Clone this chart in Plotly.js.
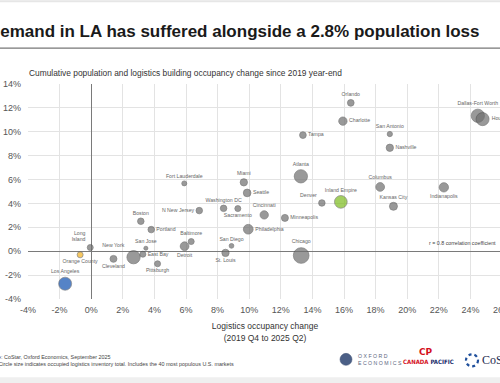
<!DOCTYPE html>
<html><head><meta charset="utf-8">
<script src="https://cdn.plot.ly/plotly-3.0.1.min.js"></script>
<style>
html,body{margin:0;padding:0;width:500px;height:383px;overflow:hidden;background:#fff;position:relative}
#chart{position:absolute;left:-30px;top:0;width:600px;height:383px}
</style>
</head><body><div id="chart"></div>
<script>
// ---- data ----
const cities = ["Los Angeles","Orange County","Long<br>Island","Cleveland","New York","East Bay","San Jose","Boston","Portland","Pittsburgh",
  "Detroit","Baltimore","N New Jersey","Washington DC","Sacramento","St. Louis","San Diego","Philadelphia","Cincinnati","Minneapolis",
  "Chicago","Denver","Seattle","Miami","Fort Lauderdale","Atlanta","Tampa","Inland Empire","Orlando","Charlotte",
  "San Antonio","Nashville","Columbus","Indianapolis","Kansas City","Dallas-Fort Worth","Houston"];
const occupancyChange = [-1.65,-0.70,-0.06,1.41,2.68,3.27,3.46,3.14,3.80,4.20,
  5.91,6.33,6.84,8.38,9.28,8.50,8.88,9.94,10.95,12.26,
  13.29,14.60,9.87,9.66,5.89,13.27,13.40,15.80,16.43,15.93,
  18.90,18.90,18.29,22.32,19.13,24.47,24.77];
const populationChange = [-2.72,-0.30,0.31,-0.64,-0.50,-0.25,0.25,2.51,1.81,-1.05,
  0.42,0.81,3.40,3.59,3.57,-0.14,0.45,1.84,3.04,2.79,
  -0.36,4.04,4.88,5.77,5.68,6.27,9.72,4.13,12.42,10.89,
  9.81,8.66,5.38,5.35,3.76,11.34,11.06];
const occupiedInventory = [980,210,210,280,1020,210,95,245,245,210,
  440,210,245,245,210,310,130,545,400,285,
  1420,245,340,310,145,1020,260,930,260,400,
  160,310,440,500,370,1020,980];
const xTickValues = [-4,-2,0,2,4,6,8,10,12,14,16,18,20,22,24,26];
const xTickLabels = ["-4%","-2%","0%","2%","4%","6%","8%","10%","12%","14%","16%","18%","20%","22%","24%","26%"];
const yTickValues = [-4,-2,0,2,4,6,8,10,12,14];
const yTickLabels = ["-4%","-2%","0%","2%","4%","6%","8%","10%","12%","14%"];

// ---- styles ----
const highlight = {"Los Angeles":"#0e50b0","Orange County":"#f4b21f","Inland Empire":"#7cbb1c"};
const labelPos = {"Los Angeles":"top center","Orange County":"bottom center","Long<br>Island":"top left","Cleveland":"bottom center",
  "New York":"top left","East Bay":"middle right","San Jose":"top center","Boston":"top center","Portland":"middle right",
  "Pittsburgh":"bottom center","Detroit":"bottom center","Baltimore":"top center","N New Jersey":"middle left",
  "Washington DC":"top center","Sacramento":"bottom center","St. Louis":"bottom center","San Diego":"top center",
  "Philadelphia":"middle right","Cincinnati":"top center","Minneapolis":"middle right","Chicago":"top center",
  "Denver":"top left","Seattle":"middle right","Miami":"top center","Fort Lauderdale":"top center","Atlanta":"top center",
  "Tampa":"middle right","Inland Empire":"top center","Orlando":"top center","Charlotte":"middle right",
  "San Antonio":"top center","Nashville":"middle right","Columbus":"top center","Indianapolis":"bottom center",
  "Kansas City":"top center","Dallas-Fort Worth":"top center","Houston":"middle right"};
const sizeOf = v => 0.416*Math.sqrt(v);

const FONT = '"Liberation Sans", Arial, sans-serif';
const OFF = 30, L = 58, R = 532, T = 84, B = 299.5;
const px = xw => (xw + OFF - L)/(R - L);
const py = yw => (B - yw)/(B - T);

const trace = {
  type:'scatter', mode:'markers+text',
  x: occupancyChange, y: populationChange, text: cities,
  textposition: cities.map(c => labelPos[c] || 'top center'),
  textfont:{family:FONT, size:5.2, color:'#666'},
  marker:{
    size: occupiedInventory.map(sizeOf), sizemode:'diameter',
    color: cities.map(c => highlight[c] || '#6f6f6f'),
    line:{color: cities.map(c => highlight[c] ? '#555' : '#474747'), width:0.7}
  },
  hoverinfo:'text', cliponaxis:false, showlegend:false
};

const axisCommon = {
  showgrid:true, gridcolor:'#e3e3e3', gridwidth:1,
  zeroline:true, zerolinecolor:'#7a7a7a', zerolinewidth:1,
  showline:false, ticks:'', tickfont:{family:FONT, size:9, color:'#555'},
  tickmode:'array', fixedrange:true
};

const layout = {
  width:600, height:383,
  margin:{l:L, r:600-R, t:T, b:383-B, pad:0},
  paper_bgcolor:'#fff', plot_bgcolor:'#fff',
  font:{family:FONT},
  xaxis: Object.assign({}, axisCommon, {
    range:[-4,26], tickvals:xTickValues, ticktext:xTickLabels, ticklabelstandoff:4,
    title:{text:'Logistics occupancy change<br>(2019 Q4 to 2025 Q2)', font:{family:FONT,size:8.5,color:'#333'}, standoff:9}
  }),
  yaxis: Object.assign({}, axisCommon, {
    range:[-4,14], tickvals:yTickValues, ticktext:yTickLabels, ticklabelstandoff:6,
    title:{text:'Population change<br>(2019 Q4 to 2025 Q2)', font:{family:FONT,size:8.5,color:'#333'}, standoff:6}
  }),
  shapes:[
    {type:'rect', xref:'paper', yref:'paper', x0:px(-40), x1:px(540), y0:py(0), y1:py(2), fillcolor:'#e6e6e6', line:{width:0}, layer:'below'},
    {type:'line', xref:'paper', yref:'paper', x0:px(-40), x1:px(540), y0:py(48), y1:py(48), line:{color:'#777', width:1.2}},
    {type:'rect', xref:'paper', yref:'paper', x0:px(-40), x1:px(540), y0:py(378), y1:py(390), fillcolor:'#efefef', line:{width:0}, layer:'below'},
    {type:'circle', xref:'paper', yref:'paper', x0:px(340), x1:px(352), y0:py(354), y1:py(366), fillcolor:'#4b5f86', line:{color:'#3b4d70', width:0.5}},
    {type:'circle', xref:'paper', yref:'paper', x0:px(466), x1:px(478), y0:py(355), y1:py(367), fillcolor:'rgba(0,0,0,0)', line:{color:'#1f4f9c', width:2.2, dash:'dot'}}
  ],
  annotations:[
    {xref:'paper', yref:'paper', x:px(482), y:py(31.5), xanchor:'right', yanchor:'middle', showarrow:false,
     text:'Demand in LA has suffered alongside a 2.8% population loss', font:{family:FONT, size:17, weight:'bold', color:'#1a1a1a'}},
    {xref:'paper', yref:'paper', x:px(27), y:py(73.3), xanchor:'left', yanchor:'middle', showarrow:false,
     text:'Cumulative population and logistics building occupancy change since 2019 year-end', font:{family:FONT, size:8.4, color:'#333'}},
    {xref:'paper', yref:'paper', x:px(427), y:py(243), xanchor:'left', yanchor:'middle', showarrow:false,
     text:'r = 0.8 correlation coefficient', font:{family:FONT, size:5.3, color:'#444'}},
    {xref:'paper', yref:'paper', x:px(-18), y:py(357.7), xanchor:'left', yanchor:'middle', showarrow:false,
     text:'Source: CoStar, Oxford Economics, September 2025', font:{family:FONT, size:5.4, color:'#444'}},
    {xref:'paper', yref:'paper', x:px(-18), y:py(364.3), xanchor:'left', yanchor:'middle', showarrow:false,
     text:'Note: Circle size indicates occupied logistics inventory total. Includes the 40 most populous U.S. markets', font:{family:FONT, size:5.4, color:'#444'}},
    {xref:'paper', yref:'paper', x:px(356), y:py(356.5), xanchor:'left', yanchor:'middle', showarrow:false,
     text:'O X F O R D', font:{family:FONT, size:5.2, color:'#5a6680'}},
    {xref:'paper', yref:'paper', x:px(356), y:py(363.5), xanchor:'left', yanchor:'middle', showarrow:false,
     text:'E C O N O M I C S', font:{family:FONT, size:5.2, color:'#5a6680'}},
    {xref:'paper', yref:'paper', x:px(426), y:py(352.5), xanchor:'center', yanchor:'middle', showarrow:false,
     text:'CP', font:{family:'"DejaVu Sans"', size:9, weight:'bold', color:'#d40f1c'}},
    {xref:'paper', yref:'paper', x:px(428.5), y:py(362.5), xanchor:'center', yanchor:'middle', showarrow:false,
     text:'<span style="color:#d40f1c">CANADA</span> <span style="color:#1a2d6b">PACIFIC</span>', font:{family:'"DejaVu Sans Condensed", "DejaVu Sans"', size:6, weight:'bold', color:'#d40f1c'}},
    {xref:'paper', yref:'paper', x:px(480), y:py(361), xanchor:'left', yanchor:'middle', showarrow:false,
     text:'CoStar', font:{family:'"Liberation Serif", "DejaVu Serif", serif', size:12, color:'#1d2b4f'}}
  ]
};

Plotly.newPlot('chart', [trace], layout, {displayModeBar:false, staticPlot:true});
</script>
</body></html>
